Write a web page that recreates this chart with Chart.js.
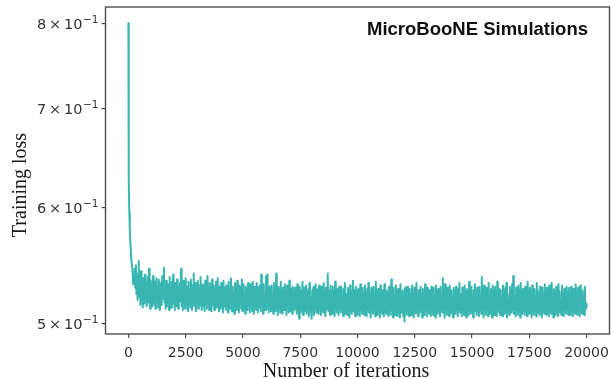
<!DOCTYPE html>
<html>
<head>
<meta charset="utf-8">
<script src="https://cdn.jsdelivr.net/npm/chart.js@4.4.1/dist/chart.umd.min.js"></script>
<style>
  html, body { margin: 0; padding: 0; background: #ffffff; }
  canvas { display: block; }
</style>
</head>
<body>
<canvas id="c" width="611" height="379"></canvas>
<script>
// ---- data ----
const chartTitle = 'MicroBooNE Simulations';
const xAxisTitle = 'Number of iterations';
const yAxisTitle = 'Training loss';

const xTicks = [0, 2500, 5000, 7500, 10000, 12500, 15000, 17500, 20000];
const yTicks = [0.5, 0.6, 0.7, 0.8];
const yTickMantissa = ['5', '6', '7', '8'];
const yTickExponent = ['−1', '−1', '−1', '−1'];

// initial drop
const earlyIters = [0, 10, 20, 40, 60, 90, 130, 170, 210];
const earlyLoss  = [0.800, 0.690, 0.625, 0.595, 0.580, 0.566, 0.552, 0.546, 0.532];

// noisy plateau, every 25 iterations from 250 to 20000 (one row = 1000 iterations)
const steadyStart = 250;
const steadyStep = 25;
const steadyLoss = [
  0.538, 0.545, 0.529, 0.548, 0.524, 0.536, 0.519, 0.541, 0.552, 0.522, 0.534, 0.515, 0.543, 0.520, 0.531, 0.513, 0.537, 0.526, 0.516, 0.540, 0.521, 0.533, 0.514, 0.529, 0.538, 0.517, 0.545, 0.523, 0.512, 0.535, 0.519, 0.531, 0.514, 0.539, 0.525, 0.516, 0.534, 0.512, 0.528, 0.537,
  0.518, 0.530, 0.513, 0.536, 0.522, 0.511, 0.533, 0.526, 0.515, 0.539, 0.520, 0.531, 0.546, 0.517, 0.528, 0.512, 0.535, 0.521, 0.514, 0.532, 0.525, 0.511, 0.538, 0.519, 0.529, 0.513, 0.534, 0.523, 0.540, 0.516, 0.527, 0.511, 0.533, 0.520, 0.514, 0.536, 0.524, 0.512, 0.530, 0.518,
  0.533, 0.521, 0.545, 0.514, 0.529, 0.511, 0.535, 0.519, 0.527, 0.512, 0.537, 0.516, 0.530, 0.523, 0.510, 0.534, 0.518, 0.528, 0.513, 0.536, 0.522, 0.511, 0.531, 0.517, 0.541, 0.514, 0.526, 0.533, 0.510, 0.529, 0.520, 0.535, 0.512, 0.524, 0.531, 0.515, 0.538, 0.519, 0.511, 0.527,
  0.532, 0.514, 0.526, 0.510, 0.535, 0.520, 0.529, 0.512, 0.539, 0.517, 0.524, 0.511, 0.533, 0.519, 0.527, 0.510, 0.536, 0.515, 0.522, 0.531, 0.511, 0.528, 0.518, 0.534, 0.513, 0.525, 0.537, 0.516, 0.510, 0.530, 0.521, 0.512, 0.533, 0.518, 0.526, 0.509, 0.535, 0.514, 0.529, 0.520,
  0.511, 0.531, 0.518, 0.526, 0.509, 0.534, 0.515, 0.528, 0.512, 0.537, 0.520, 0.510, 0.530, 0.516, 0.525, 0.508, 0.533, 0.519, 0.527, 0.511, 0.535, 0.514, 0.522, 0.509, 0.531, 0.517, 0.529, 0.512, 0.536, 0.510, 0.524, 0.532, 0.513, 0.520, 0.508, 0.530, 0.516, 0.527, 0.511, 0.533,
  0.517, 0.526, 0.509, 0.532, 0.514, 0.528, 0.510, 0.534, 0.519, 0.508, 0.530, 0.515, 0.525, 0.511, 0.533, 0.518, 0.509, 0.529, 0.513, 0.531, 0.521, 0.510, 0.540, 0.516, 0.527, 0.508, 0.532, 0.514, 0.524, 0.511, 0.538, 0.517, 0.540, 0.512, 0.528, 0.509, 0.530, 0.515, 0.522, 0.510,
  0.531, 0.513, 0.525, 0.508, 0.533, 0.517, 0.527, 0.510, 0.541, 0.514, 0.523, 0.507, 0.530, 0.516, 0.528, 0.509, 0.534, 0.512, 0.521, 0.508, 0.529, 0.518, 0.511, 0.532, 0.515, 0.526, 0.507, 0.531, 0.513, 0.524, 0.509, 0.535, 0.516, 0.510, 0.528, 0.519, 0.508, 0.530, 0.514, 0.525,
  0.511, 0.529, 0.515, 0.524, 0.508, 0.532, 0.513, 0.526, 0.504, 0.530, 0.517, 0.509, 0.527, 0.512, 0.534, 0.507, 0.522, 0.529, 0.510, 0.516, 0.531, 0.508, 0.525, 0.513, 0.528, 0.506, 0.533, 0.515, 0.521, 0.509, 0.504, 0.527, 0.512, 0.530, 0.507, 0.524, 0.514, 0.532, 0.509, 0.526,
  0.513, 0.528, 0.508, 0.531, 0.516, 0.522, 0.507, 0.530, 0.511, 0.526, 0.509, 0.533, 0.514, 0.524, 0.506, 0.529, 0.512, 0.520, 0.541, 0.510, 0.527, 0.515, 0.507, 0.531, 0.518, 0.523, 0.508, 0.530, 0.512, 0.525, 0.506, 0.534, 0.514, 0.521, 0.509, 0.528, 0.516, 0.507, 0.530, 0.513,
  0.525, 0.509, 0.530, 0.514, 0.521, 0.506, 0.528, 0.512, 0.533, 0.508, 0.524, 0.516, 0.507, 0.529, 0.513, 0.522, 0.505, 0.531, 0.511, 0.526, 0.508, 0.520, 0.535, 0.510, 0.527, 0.514, 0.506, 0.530, 0.512, 0.523, 0.507, 0.528, 0.515, 0.520, 0.506, 0.532, 0.511, 0.525, 0.508, 0.529,
  0.512, 0.524, 0.507, 0.531, 0.515, 0.520, 0.506, 0.528, 0.511, 0.533, 0.509, 0.523, 0.514, 0.505, 0.529, 0.512, 0.526, 0.508, 0.530, 0.516, 0.521, 0.506, 0.534, 0.510, 0.524, 0.507, 0.528, 0.513, 0.519, 0.505, 0.531, 0.511, 0.525, 0.508, 0.527, 0.514, 0.506, 0.532, 0.510, 0.522,
  0.508, 0.527, 0.513, 0.521, 0.506, 0.530, 0.511, 0.525, 0.507, 0.536, 0.512, 0.523, 0.505, 0.529, 0.515, 0.519, 0.507, 0.531, 0.510, 0.526, 0.506, 0.528, 0.513, 0.520, 0.505, 0.532, 0.509, 0.524, 0.511, 0.527, 0.506, 0.518, 0.502, 0.529, 0.512, 0.523, 0.507, 0.530, 0.514, 0.521,
  0.506, 0.528, 0.511, 0.524, 0.507, 0.531, 0.513, 0.520, 0.505, 0.529, 0.510, 0.526, 0.508, 0.533, 0.512, 0.521, 0.506, 0.527, 0.514, 0.509, 0.530, 0.511, 0.524, 0.505, 0.528, 0.513, 0.519, 0.507, 0.532, 0.510, 0.525, 0.506, 0.529, 0.512, 0.522, 0.508, 0.527, 0.514, 0.506, 0.530,
  0.511, 0.523, 0.507, 0.529, 0.513, 0.520, 0.505, 0.531, 0.510, 0.526, 0.508, 0.528, 0.514, 0.521, 0.506, 0.530, 0.512, 0.524, 0.509, 0.537, 0.511, 0.519, 0.505, 0.532, 0.513, 0.525, 0.507, 0.529, 0.510, 0.522, 0.506, 0.531, 0.515, 0.508, 0.527, 0.512, 0.520, 0.505, 0.529, 0.511,
  0.526, 0.508, 0.530, 0.513, 0.522, 0.506, 0.528, 0.511, 0.533, 0.509, 0.524, 0.514, 0.506, 0.529, 0.512, 0.521, 0.507, 0.531, 0.510, 0.525, 0.505, 0.528, 0.515, 0.520, 0.507, 0.534, 0.511, 0.523, 0.508, 0.530, 0.513, 0.519, 0.505, 0.527, 0.510, 0.532, 0.512, 0.522, 0.507, 0.529,
  0.510, 0.525, 0.506, 0.530, 0.513, 0.521, 0.508, 0.538, 0.511, 0.527, 0.505, 0.531, 0.514, 0.520, 0.507, 0.529, 0.512, 0.524, 0.506, 0.533, 0.510, 0.522, 0.508, 0.528, 0.515, 0.505, 0.531, 0.511, 0.526, 0.507, 0.530, 0.513, 0.519, 0.506, 0.534, 0.509, 0.524, 0.512, 0.528, 0.507,
  0.527, 0.511, 0.522, 0.506, 0.531, 0.513, 0.525, 0.508, 0.529, 0.510, 0.533, 0.505, 0.524, 0.514, 0.520, 0.507, 0.530, 0.512, 0.526, 0.509, 0.532, 0.511, 0.539, 0.508, 0.523, 0.515, 0.506, 0.529, 0.512, 0.521, 0.507, 0.531, 0.510, 0.527, 0.505, 0.533, 0.513, 0.520, 0.508, 0.528,
  0.510, 0.524, 0.507, 0.530, 0.513, 0.521, 0.506, 0.534, 0.511, 0.526, 0.508, 0.529, 0.514, 0.519, 0.505, 0.531, 0.510, 0.525, 0.507, 0.528, 0.512, 0.522, 0.506, 0.533, 0.509, 0.527, 0.513, 0.520, 0.507, 0.530, 0.511, 0.524, 0.505, 0.529, 0.514, 0.521, 0.508, 0.532, 0.510, 0.526,
  0.507, 0.529, 0.512, 0.522, 0.506, 0.531, 0.510, 0.525, 0.508, 0.533, 0.513, 0.520, 0.505, 0.528, 0.511, 0.524, 0.507, 0.530, 0.514, 0.521, 0.506, 0.532, 0.509, 0.526, 0.512, 0.519, 0.507, 0.531, 0.510, 0.524, 0.506, 0.528, 0.513, 0.522, 0.508, 0.530, 0.511, 0.525, 0.507, 0.529,
  0.512, 0.523, 0.507, 0.530, 0.514, 0.521, 0.506, 0.528, 0.511, 0.525, 0.508, 0.532, 0.513, 0.520, 0.507, 0.529, 0.510, 0.524, 0.506, 0.531, 0.512, 0.522, 0.508, 0.527, 0.514, 0.519, 0.507, 0.530, 0.511, 0.516, 0.513
];

// ---- build points ----
const points = [];
earlyIters.forEach((it, i) => points.push({ x: it, y: earlyLoss[i] }));
steadyLoss.forEach((v, i) => points.push({ x: steadyStart + i * steadyStep, y: v }));

const LINE_COLOR = 'rgb(58,182,178)';
const FRAME_COLOR = '#4d4d4d';
const TEXT_COLOR = '#333333';
const SANS = '"Liberation Sans", Arial, Helvetica, sans-serif';
const MATH = '"DejaVu Sans", sans-serif';
const SERIF = '"Liberation Serif", "Times New Roman", serif';

const decorPlugin = {
  id: 'decor',
  afterDraw(chart) {
    const { ctx, chartArea: a } = chart;
    const ys = chart.scales.y;
    ctx.save();
    // full frame
    ctx.strokeStyle = FRAME_COLOR;
    ctx.lineWidth = 1.4;
    ctx.strokeRect(a.left, a.top, a.right - a.left, a.bottom - a.top);
    // y tick labels: mantissa × 10 with a raised exponent
    ctx.fillStyle = TEXT_COLOR;
    ctx.textBaseline = 'alphabetic';
    ctx.textAlign = 'right';
    yTicks.forEach((v, i) => {
      const y = ys.getPixelForValue(v);
      const right = a.left - 7;
      ctx.font = '10.5px ' + MATH;
      const supW = ctx.measureText(yTickExponent[i]).width;
      ctx.fillText(yTickExponent[i], right, y - 0.5);
      ctx.font = '14.5px ' + MATH;
      ctx.fillText(yTickMantissa[i] + '\u2009×\u200910', right - supW - 0.5, y + 5.3);
    });
    // in-plot label
    ctx.fillStyle = '#111111';
    ctx.font = 'bold 18.5px ' + SANS;
    ctx.textAlign = 'right';
    ctx.fillText(chartTitle, a.right - 21.5, a.top + 28);
    // axis titles
    ctx.font = '20px ' + SERIF;
    ctx.fillStyle = '#1a1a1a';
    ctx.textAlign = 'center';
    ctx.fillText(xAxisTitle, 346, 377);
    ctx.translate(26, 185);
    ctx.rotate(-Math.PI / 2);
    ctx.fillText(yAxisTitle, 0, 0);
    ctx.restore();
  }
};

new Chart(document.getElementById('c'), {
  type: 'line',
  data: {
    datasets: [{
      data: points,
      borderColor: LINE_COLOR,
      borderWidth: 2,
      borderJoinStyle: 'round',
      borderCapStyle: 'round',
      pointRadius: 0,
      tension: 0,
      fill: false
    }]
  },
  options: {
    responsive: false,
    animation: false,
    devicePixelRatio: 1,
    layout: { padding: { left: 0, right: 1.5, top: 7, bottom: 0 } },
    plugins: { legend: { display: false }, tooltip: { enabled: false } },
    scales: {
      x: {
        type: 'linear',
        min: -1000,
        max: 21000,
        afterBuildTicks(scale) { scale.ticks = xTicks.map(v => ({ value: v })); },
        afterFit(scale) { scale.height = 45; scale.paddingLeft = 0; scale.paddingRight = 0; },
        grid: { drawOnChartArea: false, drawTicks: true, tickLength: 4, color: FRAME_COLOR, lineWidth: 1.2 },
        border: { display: false },
        ticks: {
          padding: 7,
          maxRotation: 0,
          autoSkip: false,
          color: TEXT_COLOR,
          font: { family: MATH, size: 14 },
          callback: (v) => String(v)
        },
        title: { display: false }
      },
      y: {
        type: 'logarithmic',
        min: 0.4922,
        max: 0.8206,
        afterBuildTicks(scale) { scale.ticks = yTicks.map(v => ({ value: v })); },
        afterFit(scale) { scale.width = 105.5; scale.paddingTop = 0; scale.paddingBottom = 0; },
        grid: { drawOnChartArea: false, drawTicks: true, tickLength: 4, color: FRAME_COLOR, lineWidth: 1.2 },
        border: { display: false },
        ticks: { display: false },
        title: { display: false }
      }
    }
  },
  plugins: [decorPlugin]
});
</script>
</body>
</html>
